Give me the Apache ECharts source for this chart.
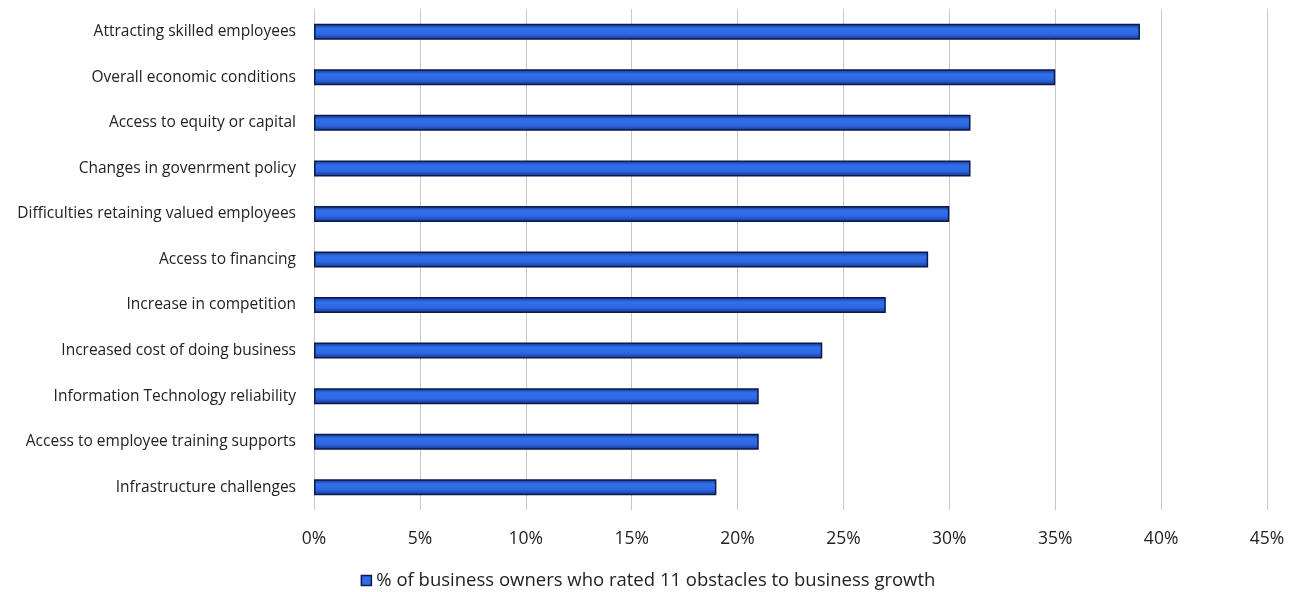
<!DOCTYPE html>
<html lang="en">
<head>
    <meta charset="UTF-8">
    <script src="https://cdn.jsdelivr.net/npm/echarts@6.0.0/dist/echarts.min.js"></script>
    <title>Obstacles to business growth</title>
    <style>
        html, body { margin: 0; padding: 0; background: #fff; }
        #chart { width: 1296px; height: 592px; }
    </style>
</head>
<body>
    <div id="chart"></div>
    <script>
        // categories listed bottom to top (category axis starts at the bottom)
        const categories = [
            'Infrastructure challenges',
            'Access to employee training supports',
            'Information Technology reliability',
            'Increased cost of doing business',
            'Increase in competition',
            'Access to financing',
            'Difficulties retaining valued employees',
            'Changes in govenrment policy',
            'Access to equity or capital',
            'Overall economic conditions',
            'Attracting skilled employees'
        ];
        const values = [19, 21, 21, 24, 27, 29, 30, 31, 31, 35, 39];
        const seriesName = '% of business owners who rated 11 obstacles to business growth';

        const barFill = new echarts.graphic.LinearGradient(0, 0, 0, 1, [
            { offset: 0, color: '#16338f' },
            { offset: 0.3, color: '#3170ea' },
            { offset: 0.65, color: '#2d68e2' },
            { offset: 1, color: '#16338f' }
        ]);

        const chart = echarts.init(document.getElementById('chart'));
        chart.setOption({
            animation: false,
            textStyle: { fontFamily: 'Open Sans, sans-serif' },
            grid: { left: 314, right: 29, top: 9, bottom: 82 },
            legend: {
                top: 566,
                left: 'center',
                itemWidth: 10,
                itemHeight: 10,
                itemGap: 6,
                icon: 'rect',
                itemStyle: { color: '#2f6be6', borderColor: '#0b1a4d', borderWidth: 1.5 },
                textStyle: { fontSize: 18.5, color: '#222' },
                data: [seriesName]
            },
            xAxis: {
                type: 'value',
                min: 0,
                max: 45,
                interval: 5,
                axisLine: { show: false },
                axisTick: { show: false },
                axisLabel: { formatter: '{value}%', fontSize: 17.5, color: '#222', margin: 20 },
                splitLine: { show: true, lineStyle: { color: '#c8c8c8', width: 1 } }
            },
            yAxis: {
                type: 'category',
                data: categories,
                axisLine: { show: false },
                axisTick: { show: false },
                axisLabel: { fontSize: 15.5, color: '#222', margin: 18 }
            },
            series: [{
                name: seriesName,
                type: 'bar',
                data: values,
                barWidth: 16,
                itemStyle: { color: barFill, borderColor: '#0b1a4d', borderWidth: 1.5 }
            }]
        });
    </script>
</body>
</html>
